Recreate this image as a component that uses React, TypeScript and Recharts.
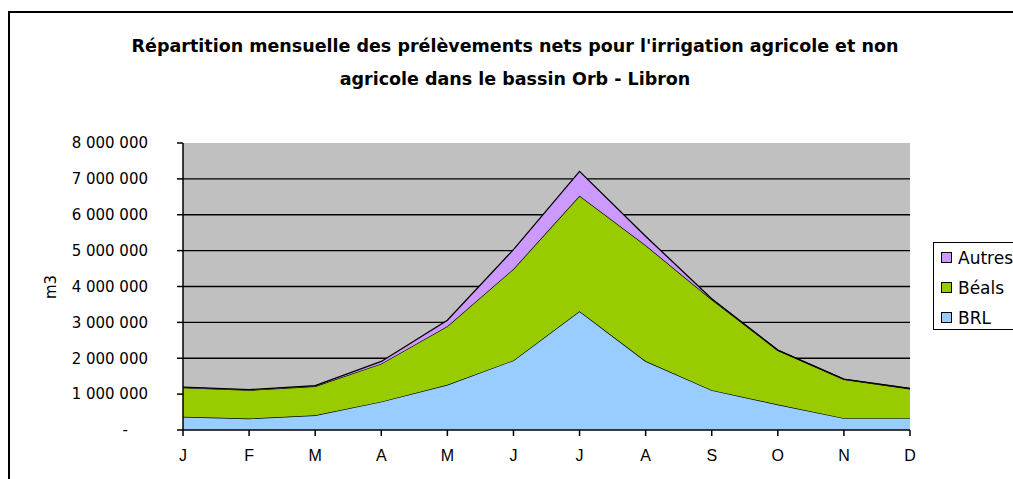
import React from 'react';
import { AreaChart, Area, XAxis, YAxis, CartesianGrid } from 'recharts';

const months = ['J', 'F', 'M', 'A', 'M', 'J', 'J', 'A', 'S', 'O', 'N', 'D'];
const brl = [370000, 320000, 410000, 790000, 1260000, 1940000, 3310000, 1920000, 1110000, 710000, 330000, 330000];
const beals = [810000, 790000, 810000, 1060000, 1630000, 2550000, 3220000, 3230000, 2530000, 1510000, 1080000, 820000];
const autres = [15000, 15000, 15000, 60000, 170000, 540000, 680000, 250000, 20000, 10000, 10000, 10000];
const yTicks = [0, 1000000, 2000000, 3000000, 4000000, 5000000, 6000000, 7000000, 8000000];
const gridValues = [1000000, 2000000, 3000000, 4000000, 5000000, 6000000, 7000000];
const titleLines = [
  "Répartition mensuelle des prélèvements nets pour l'irrigation agricole et non",
  'agricole dans le bassin Orb - Libron',
];
const yAxisTitle = 'm3';

const series = [
  { key: 'brl', name: 'BRL', color: '#99CCFF' },
  { key: 'beals', name: 'Béals', color: '#99CC00' },
  { key: 'autres', name: 'Autres', color: '#CC99FF' },
];

const data = months.map((m, i) => ({ month: m, brl: brl[i], beals: beals[i], autres: autres[i] }));

const fmt = (v: number) => (v === 0 ? '-' : v.toString().replace(/\B(?=(\d{3})+(?!\d))/g, ' '));

const YTick = (props: any) => {
  const { x, y, payload } = props;
  const v = payload.value;
  return (
    <text
      x={v === 0 ? x - 20 : x}
      y={y}
      dy="0.35em"
      textAnchor="end"
      fill="#000"
      fontFamily="DejaVu Sans"
      fontSize={15}
    >
      {fmt(v)}
    </text>
  );
};

export default function App() {
  const legendItems = [...series].reverse();
  return (
    <div
      style={{
        position: 'absolute',
        left: 0,
        top: 0,
        width: 1013,
        height: 479,
        overflow: 'hidden',
        background: '#fff',
      }}
    >
      <div
        style={{
          position: 'absolute',
          left: 8,
          top: 11,
          width: 1100,
          height: 600,
          border: '2px solid #000',
          boxSizing: 'border-box',
        }}
      />
      <div style={{ position: 'absolute', left: 0, top: 0 }}>
        <AreaChart
          width={1013}
          height={479}
          data={data}
          margin={{ top: 143, right: 103, bottom: 19, left: 0 }}
        >
          <CartesianGrid
            vertical={false}
            horizontalValues={gridValues}
            stroke="#000"
            strokeWidth={1.3}
            fill="#C0C0C0"
            fillOpacity={1}
          />
          <XAxis
            dataKey="month"
            height={30}
            tickSize={6}
            tickMargin={14}
            axisLine={{ stroke: '#000', strokeWidth: 1.5 }}
            tickLine={{ stroke: '#000', strokeWidth: 1.5 }}
            tick={{ fill: '#000', fontFamily: 'Liberation Sans', fontSize: 16 }}
            interval={0}
          />
          <YAxis
            width={183}
            domain={[0, 8000000]}
            ticks={yTicks}
            tickSize={6}
            tickMargin={29}
            axisLine={{ stroke: '#000', strokeWidth: 1.5 }}
            tickLine={{ stroke: '#000', strokeWidth: 1.5 }}
            tick={<YTick />}
            interval={0}
          />
          {series.map((s) => (
            <Area
              key={s.key}
              type="linear"
              dataKey={s.key}
              name={s.name}
              stackId="1"
              stroke="#000"
              strokeWidth={1.3}
              fill={s.color}
              fillOpacity={1}
              isAnimationActive={false}
              dot={false}
              activeDot={false}
            />
          ))}
        </AreaChart>
      </div>
      <svg
        width={1013}
        height={479}
        style={{ position: 'absolute', left: 0, top: 0, pointerEvents: 'none' }}
      >
        {titleLines.map((t, i) => (
          <text
            key={i}
            x={515}
            y={52 + i * 33}
            textAnchor="middle"
            fontFamily="DejaVu Sans"
            fontWeight="bold"
            fontSize={17.5}
            fill="#000"
          >
            {t}
          </text>
        ))}
        <text
          x={51}
          y={287}
          transform="rotate(-90 51 287)"
          textAnchor="middle"
          dy="0.35em"
          fontFamily="DejaVu Sans"
          fontSize={15}
          fill="#000"
        >
          {yAxisTitle}
        </text>
        <rect x={933.5} y={242.5} width={100} height={87} fill="#fff" stroke="#000" strokeWidth={1} />
        {legendItems.map((s, i) => {
          const cy = 258 + i * 30;
          return (
            <g key={s.key}>
              <rect x={941.5} y={cy - 5.5} width={10} height={10} fill={s.color} stroke="#000" strokeWidth={1} />
              <text x={958} y={cy} dy="0.35em" fontFamily="DejaVu Sans" fontSize={17} fill="#000">
                {s.name}
              </text>
            </g>
          );
        })}
      </svg>
    </div>
  );
}
